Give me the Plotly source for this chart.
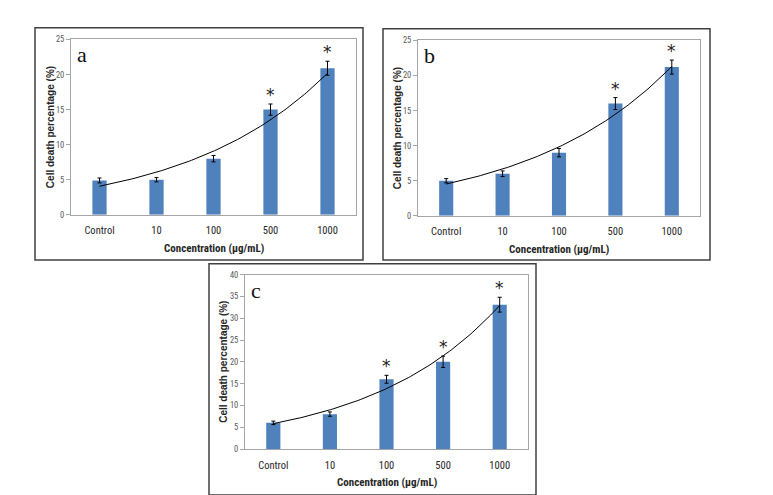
import numpy as np
import plotly.graph_objects as go

W, H = 773, 495

categories = ["Control", "10", "100", "500", "1000"]
values_a = [4.9, 5.0, 8.0, 15.0, 20.9]
errors_a = [0.35, 0.3, 0.45, 0.8, 1.0]
stars_a = [False, False, False, True, True]

values_b = [5.0, 6.0, 9.0, 16.0, 21.2]
errors_b = [0.3, 0.4, 0.6, 0.85, 1.0]
stars_b = [False, False, False, True, True]

values_c = [6.0, 8.0, 16.0, 20.0, 33.1]
errors_c = [0.4, 0.5, 0.9, 1.3, 1.7]
stars_c = [False, False, True, True, True]

y_title = "Cell death percentage (%)"
x_title = "Concentration (µg/mL)"
labels = ["a", "b", "c"]


def px(x):
    return x / W


def py(y):
    return 1 - y / H


# plot areas in pixels: (left, right, top, bottom)
areas = [(63, 348, 27, 206), (410, 692, 28, 207), (237, 520, 267, 445)]
frames = [(27, 15, 355, 252), (375, 16, 702, 252), (201, 256, 528, 492)]
yranges = [25, 25, 40]
panels = [(values_a, errors_a, stars_a), (values_b, errors_b, stars_b), (values_c, errors_c, stars_c)]

fig = go.Figure()
xpos = list(range(len(categories)))
BLUE = "#4F81BD"
GRAY = "#A6A6A6"
TICKFONT = "Liberation Sans Narrow, Roboto Condensed, Open Sans, sans-serif"
annotations = []
shapes = []

for i, ((vals, errs, stars), (l, r, t, b), ymax, lab) in enumerate(zip(panels, areas, yranges, labels)):
    xa = "x" if i == 0 else f"x{i+1}"
    ya = "y" if i == 0 else f"y{i+1}"
    fig.add_trace(go.Bar(
        x=xpos, y=vals, width=0.25, marker=dict(color=BLUE, line=dict(width=0)),
        error_y=dict(type="data", array=errs, color="black", thickness=1, width=2),
        xaxis=xa, yaxis=ya, showlegend=False))
    # Exponential trendline fitted to the data
    B, lnA = np.polyfit(np.array(xpos, dtype=float), np.log(vals), 1)
    tx = np.linspace(0, len(categories) - 1, 100)
    fig.add_trace(go.Scatter(
        x=tx, y=np.exp(lnA + B * tx), mode="lines",
        line=dict(color="black", width=1), xaxis=xa, yaxis=ya, showlegend=False,
        hoverinfo="skip"))
    for k, (v, e, s) in enumerate(zip(vals, errs, stars)):
        if s:
            annotations.append(dict(
                x=k, y=v + e, xref=xa, yref=ya, text="*", showarrow=False,
                yanchor="bottom", yshift=-3,
                font=dict(family="DejaVu Sans, sans-serif", size=17, color="#222222")))
    axis_suffix = "" if i == 0 else str(i + 1)
    fig.layout["xaxis" + axis_suffix] = dict(
        domain=[px(l), px(r)], range=[-0.5, len(categories) - 0.5],
        tickmode="array", tickvals=xpos, ticktext=categories,
        showline=True, linecolor=GRAY, linewidth=1, mirror=True,
        ticks="", showgrid=False, zeroline=False, anchor=ya,
        ticklabelstandoff=6,
        tickfont=dict(family=TICKFONT, size=10.5, color="#262626"))
    fig.layout["yaxis" + axis_suffix] = dict(
        domain=[py(b), py(t)], range=[0, ymax], dtick=5,
        showline=True, linecolor=GRAY, linewidth=1, mirror=True,
        ticks="outside", ticklen=4, tickcolor=GRAY,
        showgrid=False, zeroline=False, anchor=xa,
        tickfont=dict(family=TICKFONT, size=8.5, color="#595959"))
    # axis titles
    annotations.append(dict(
        x=px(l - 21), y=py((t + b) / 2), xref="paper", yref="paper",
        text=f"<b>{y_title}</b>", textangle=-90, showarrow=False,
        xanchor="center", yanchor="middle",
        font=dict(family="Liberation Sans, Arial, sans-serif", size=10, color="#262626")))
    annotations.append(dict(
        x=px((l + r) / 2), y=py(b + 34), xref="paper", yref="paper",
        text=f"<b>{x_title}</b>", showarrow=False,
        xanchor="center", yanchor="middle",
        font=dict(family=TICKFONT, size=11, color="#262626")))
    # panel letter
    annotations.append(dict(
        x=px(l + 4), y=py(t + 1), xref="paper", yref="paper",
        text=lab, showarrow=False, xanchor="left", yanchor="top",
        font=dict(family="Liberation Serif, Times New Roman, serif", size=22, color="#111111")))
    fx0, fy0, fx1, fy1 = frames[i]
    shapes.append(dict(type="rect", xref="paper", yref="paper",
                       x0=px(fx0), x1=px(fx1), y0=py(fy1), y1=py(fy0),
                       line=dict(color="#404040", width=1.5)))

fig.update_layout(
    width=W, height=H, margin=dict(l=0, r=0, t=0, b=0),
    paper_bgcolor="white", plot_bgcolor="white",
    annotations=annotations, shapes=shapes, bargap=0.75,
)

fig.write_html("out.html")
